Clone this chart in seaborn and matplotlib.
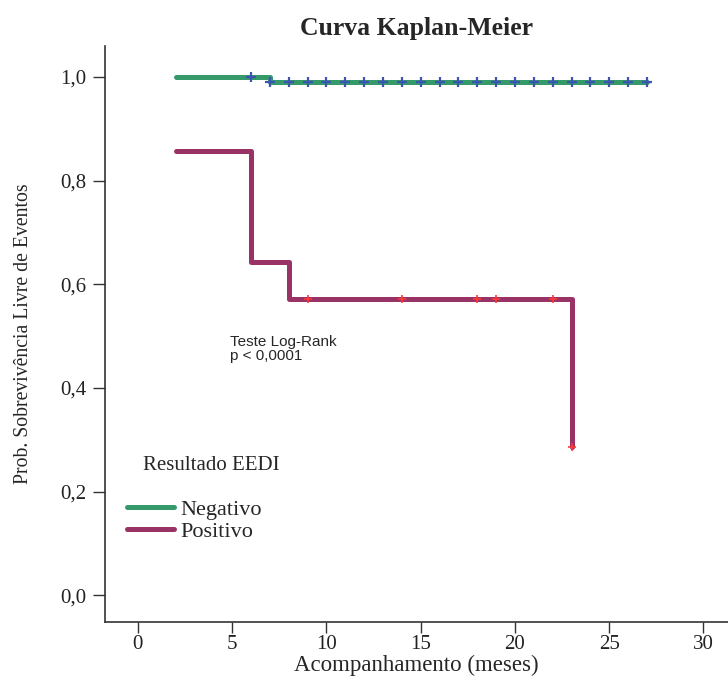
import numpy as np
import pandas as pd
import matplotlib
matplotlib.use("Agg")
import matplotlib.pyplot as plt
import seaborn as sns

# step points (time, survival) for each group
neg_time = [2, 7, 27]
neg_surv = [1.0, 0.99, 0.99]
pos_time = [2, 6, 8, 23]
pos_surv = [0.857, 0.643, 0.571, 0.286]

# censored observations
neg_cens_time = [6, 7, 8, 9, 10, 11, 12, 13, 14, 15, 16, 17, 18, 19, 20, 21, 22, 23, 24, 25, 26, 27]
neg_cens_surv = [1.0] + [0.99] * 21
pos_cens_time = [9, 14, 18, 19, 22, 23]
pos_cens_surv = [0.571, 0.571, 0.571, 0.571, 0.571, 0.286]

groups = ["Negativo", "Positivo"]
x_ticks = [0, 5, 10, 15, 20, 25, 30]
y_ticks = [0.0, 0.2, 0.4, 0.6, 0.8, 1.0]
y_tick_labels = ["0,0", "0,2", "0,4", "0,6", "0,8", "1,0"]

steps = pd.DataFrame({
    "tempo": neg_time + pos_time,
    "surv": neg_surv + pos_surv,
    "grupo": [groups[0]] * len(neg_time) + [groups[1]] * len(pos_time),
})

sns.set_style("white")
plt.rcParams["font.family"] = ["Liberation Serif", "DejaVu Serif"]

fig = plt.figure(figsize=(7.28, 6.83), dpi=100)
ax = fig.add_axes([0.144, 0.089, 0.856, 0.844])

line_colors = {"Negativo": "#35996a", "Positivo": "#993366"}
sns.lineplot(data=steps, x="tempo", y="surv", hue="grupo", palette=line_colors,
             estimator=None, sort=False, drawstyle="steps-post", linewidth=3.6,
             ax=ax, legend=False)

sns.scatterplot(x=neg_cens_time, y=neg_cens_surv, marker="+", s=60, linewidth=1.6,
                color="#3b55b0", ax=ax, zorder=5)
sns.scatterplot(x=pos_cens_time, y=pos_cens_surv, marker="+", s=35, linewidth=1.2,
                color="#ff3838", ax=ax, zorder=5)

ax.set_xlim(-1.75, 31.3)
ax.set_ylim(-0.052, 1.06)
ax.set_xticks(x_ticks)
ax.set_yticks(y_ticks)
ax.set_yticklabels(y_tick_labels)
ax.tick_params(axis="both", direction="out", length=9, width=1, labelsize=15,
               color="#333333", labelcolor="#222222", left=True, bottom=True, pad=4)
ax.tick_params(axis="x", length=8, pad=1)
for side in ["top", "right"]:
    ax.spines[side].set_visible(False)
for side in ["left", "bottom"]:
    ax.spines[side].set_color("#333333")
    ax.spines[side].set_linewidth(1.2)

ax.set_xlabel("Acompanhamento (meses)", fontsize=16.5, labelpad=1)
ax.set_ylabel("Prob. Sobrevivência Livre de Eventos", fontsize=14.2, labelpad=20)
ax.set_title("Curva Kaplan-Meier", fontsize=18.5, fontweight="bold", pad=8)

ax.text(4.9, 0.503, "Teste Log-Rank\np < 0,0001", fontsize=11, va="top", ha="left",
        family=["Liberation Sans", "DejaVu Sans"], linespacing=1.05)

ax.text(0.25, 0.251, "Resultado EEDI", fontsize=15, va="center", ha="left")
handles = [plt.Line2D([], [], color=line_colors[g], linewidth=3.6) for g in groups]
ax.legend(handles, groups, loc="upper left", bbox_to_anchor=(0.022, 0.228),
          frameon=False, fontsize=16, handlelength=2.1, handletextpad=0.3,
          labelspacing=0.05, borderaxespad=0)

fig.savefig("out.png", dpi=100)
